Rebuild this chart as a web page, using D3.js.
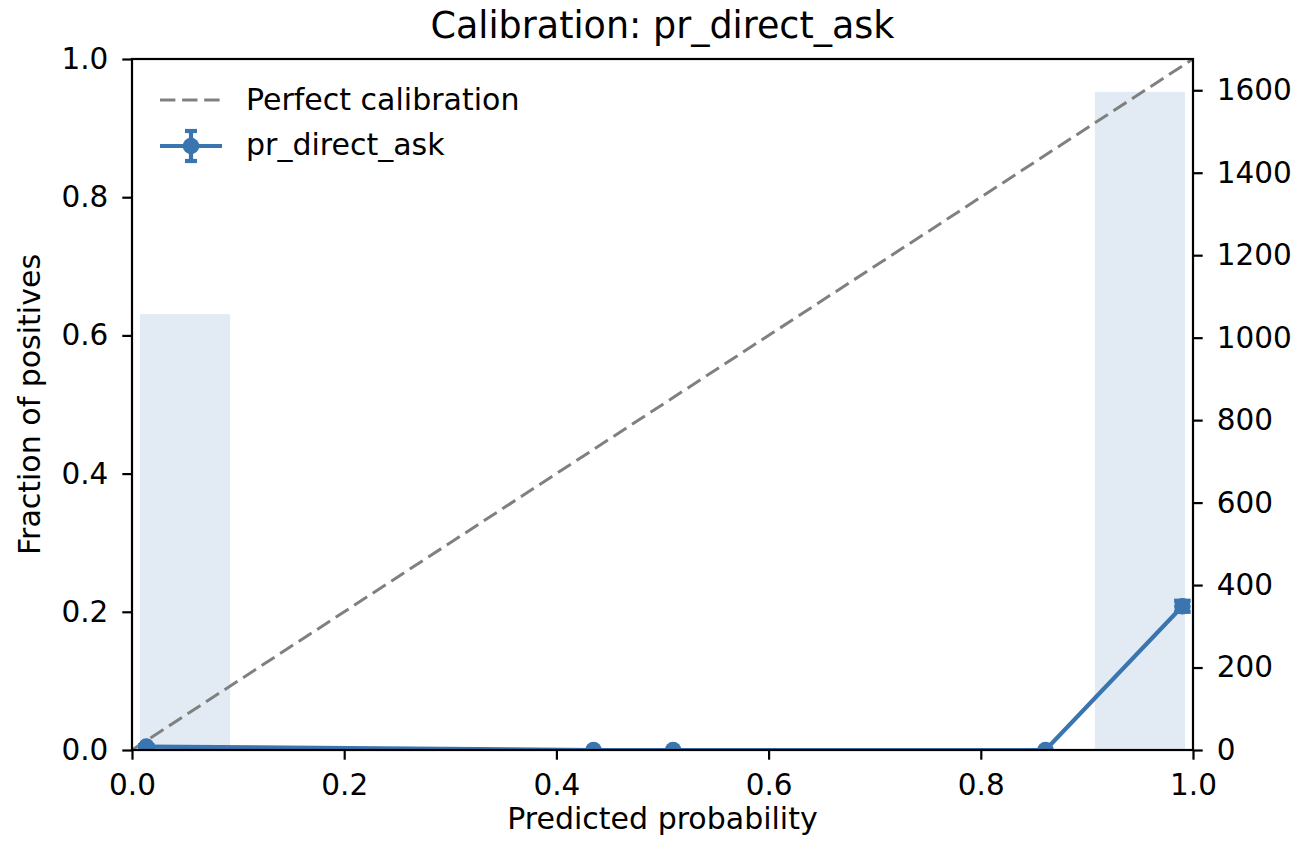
<!DOCTYPE html>
<html>
<head>
<meta charset="utf-8">
<script src="https://cdn.jsdelivr.net/npm/d3@7"></script>
<style>
  html, body { margin: 0; padding: 0; background: #fff; }
  text { font-family: "DejaVu Sans", sans-serif; fill: #000; }
</style>
</head>
<body>
<svg id="chart" width="1299" height="846"></svg>
<script>
// Calibration curve: mean predicted probability per bin vs. observed fraction of positives
const meanPredicted = [0.0135, 0.435, 0.510, 0.861, 0.990];
const fractionPositive = [0.005, 0.0, 0.0, 0.0, 0.208];
const errLow = [0.002, 0.0, 0.0, 0.0, 0.008];
const errHigh = [0.002, 0.0, 0.0, 0.0, 0.008];

// Histogram of predictions (10 bins over [0, 1]) on the secondary axis
const binStarts = [0.0, 0.1, 0.2, 0.3, 0.4, 0.5, 0.6, 0.7, 0.8, 0.9];
const binCounts = [1057, 0, 0, 0, 1, 1, 0, 0, 2, 1596];

const xTicks = [0.0, 0.2, 0.4, 0.6, 0.8, 1.0];
const yTicks = [0.0, 0.2, 0.4, 0.6, 0.8, 1.0];
const countTicks = [0, 200, 400, 600, 800, 1000, 1200, 1400, 1600];

const seriesName = "pr_direct_ask";
const color = "#3a75b0";
const barColor = "#e2ebf4";

const svg = d3.select("#chart");
const plot = { left: 132, right: 1193, top: 59, bottom: 750 };

const x = d3.scaleLinear().domain([0, 1]).range([plot.left, plot.right]);
const y = d3.scaleLinear().domain([0, 1]).range([plot.bottom, plot.top]);
const yCount = d3.scaleLinear().domain([0, d3.max(binCounts) * 1.05]).range([plot.bottom, plot.top]);

svg.append("defs").append("clipPath").attr("id", "plotClip")
  .append("rect")
  .attr("x", plot.left).attr("y", plot.top)
  .attr("width", plot.right - plot.left).attr("height", plot.bottom - plot.top);

// histogram bars (rwidth 0.85)
const binWidth = 0.1, rwidth = 0.85;
svg.append("g").attr("clip-path", "url(#plotClip)")
  .selectAll("rect").data(binStarts.map((b, i) => ({ b, c: binCounts[i] })))
  .join("rect")
  .attr("x", d => x(d.b + binWidth * (1 - rwidth) / 2))
  .attr("width", d => x(d.b + binWidth * (1 + rwidth) / 2) - x(d.b + binWidth * (1 - rwidth) / 2))
  .attr("y", d => yCount(d.c))
  .attr("height", d => yCount(0) - yCount(d.c))
  .attr("fill", barColor);

// perfect calibration diagonal
const g = svg.append("g").attr("clip-path", "url(#plotClip)");
g.append("line")
  .attr("x1", x(0)).attr("y1", y(0)).attr("x2", x(1)).attr("y2", y(1))
  .attr("stroke", "#808080").attr("stroke-width", 3)
  .attr("stroke-dasharray", "15.4,6.7");

const pts = meanPredicted.map((m, i) => ({ m, f: fractionPositive[i], lo: errLow[i], hi: errHigh[i] }));

g.append("path")
  .datum(pts)
  .attr("d", d3.line().x(d => x(d.m)).y(d => y(d.f)))
  .attr("fill", "none").attr("stroke", color).attr("stroke-width", 4.2)
  .attr("stroke-linejoin", "round");

// error bars with caps
const eb = g.append("g").selectAll("g").data(pts.filter(d => d.lo + d.hi > 0)).join("g");
eb.append("line")
  .attr("x1", d => x(d.m)).attr("x2", d => x(d.m))
  .attr("y1", d => y(d.f - d.lo)).attr("y2", d => y(d.f + d.hi))
  .attr("stroke", color).attr("stroke-width", 4.2);
["lo", "hi"].forEach(k => {
  eb.append("line")
    .attr("x1", d => x(d.m) - 8.3).attr("x2", d => x(d.m) + 8.3)
    .attr("y1", d => y(k === "lo" ? d.f - d.lo : d.f + d.hi))
    .attr("y2", d => y(k === "lo" ? d.f - d.lo : d.f + d.hi))
    .attr("stroke", color).attr("stroke-width", 4.2);
});

g.append("g").selectAll("circle").data(pts).join("circle")
  .attr("cx", d => x(d.m)).attr("cy", d => y(d.f)).attr("r", 8.3)
  .attr("fill", color);

// axes
const tickFont = "29.5px";
const fmt1 = d3.format(".1f");

const xAxis = svg.append("g").attr("transform", `translate(0,${plot.bottom})`)
  .call(d3.axisBottom(x).tickValues(xTicks).tickFormat(fmt1).tickSizeInner(9.7).tickSizeOuter(0).tickPadding(14));
const yAxis = svg.append("g").attr("transform", `translate(${plot.left},0)`)
  .call(d3.axisLeft(y).tickValues(yTicks).tickFormat(fmt1).tickSizeInner(9.7).tickSizeOuter(0).tickPadding(14));
const yAxisR = svg.append("g").attr("transform", `translate(${plot.right},0)`)
  .call(d3.axisRight(yCount).tickValues(countTicks).tickFormat(d3.format("d")).tickSizeInner(9.7).tickSizeOuter(0).tickPadding(14));

[xAxis, yAxis, yAxisR].forEach(a => {
  a.select(".domain").remove();
  a.selectAll(".tick line").attr("stroke", "#000").attr("stroke-width", 2.2);
  a.selectAll(".tick text").style("font-size", tickFont).style("font-family", "DejaVu Sans").attr("fill", "#000");
});

// spines
svg.append("rect")
  .attr("x", plot.left).attr("y", plot.top)
  .attr("width", plot.right - plot.left).attr("height", plot.bottom - plot.top)
  .attr("fill", "none").attr("stroke", "#000").attr("stroke-width", 2.2);

// title and labels
svg.append("text").attr("x", (plot.left + plot.right) / 2).attr("y", 38)
  .attr("text-anchor", "middle").style("font-size", "36.5px")
  .text("Calibration: " + seriesName);
svg.append("text").attr("x", (plot.left + plot.right) / 2).attr("y", 829)
  .attr("text-anchor", "middle").style("font-size", "30px")
  .text("Predicted probability");
svg.append("text")
  .attr("transform", `translate(40,${(plot.top + plot.bottom) / 2}) rotate(-90)`)
  .attr("text-anchor", "middle").style("font-size", "30px")
  .text("Fraction of positives");

// legend
const leg = svg.append("g");
leg.append("line").attr("x1", 160).attr("x2", 222).attr("y1", 100).attr("y2", 100)
  .attr("stroke", "#808080").attr("stroke-width", 3).attr("stroke-dasharray", "15.4,6.7");
leg.append("text").attr("x", 246).attr("y", 110).style("font-size", "30px").text("Perfect calibration");

const ly = 146;
leg.append("line").attr("x1", 160).attr("x2", 222).attr("y1", ly).attr("y2", ly)
  .attr("stroke", color).attr("stroke-width", 4.2);
leg.append("line").attr("x1", 191).attr("x2", 191).attr("y1", ly - 15).attr("y2", ly + 15)
  .attr("stroke", color).attr("stroke-width", 4.2);
[ly - 15, ly + 15].forEach(cy => leg.append("line")
  .attr("x1", 185).attr("x2", 197).attr("y1", cy).attr("y2", cy)
  .attr("stroke", color).attr("stroke-width", 4.2));
leg.append("circle").attr("cx", 191).attr("cy", ly).attr("r", 8.3).attr("fill", color);
leg.append("text").attr("x", 246).attr("y", 155).style("font-size", "30px").text(seriesName);
</script>
</body>
</html>
